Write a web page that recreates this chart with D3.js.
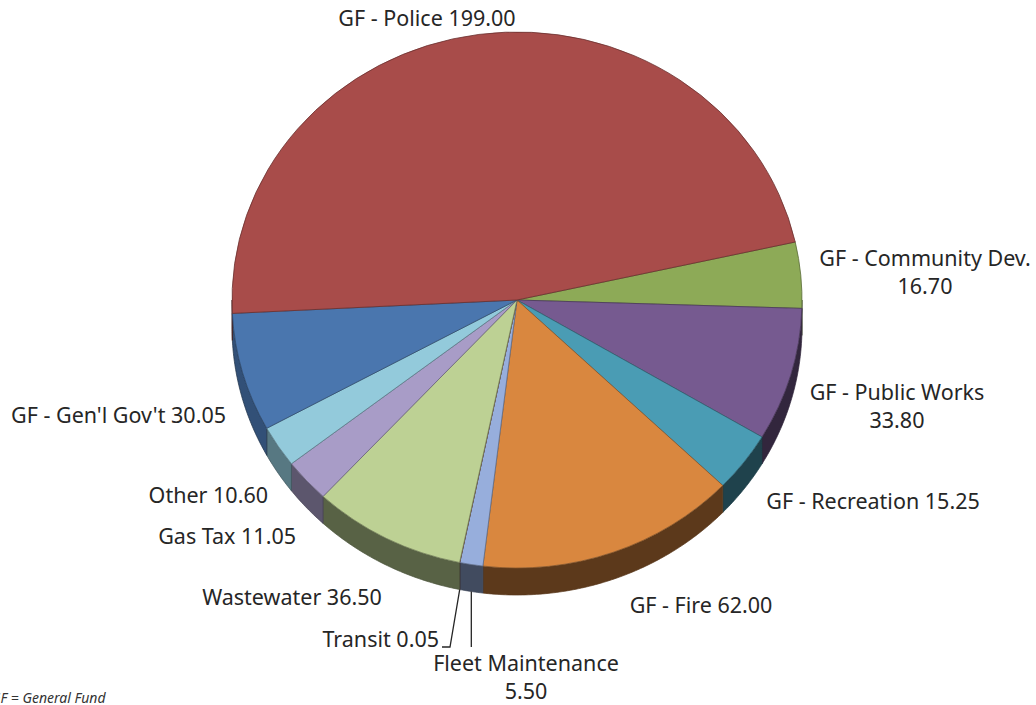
<!DOCTYPE html>
<html>
<head>
<meta charset="utf-8">
<script src="https://cdn.jsdelivr.net/npm/d3@7"></script>
<style>
  body { margin: 0; background: #fff; }
  svg { display: block; }
</style>
</head>
<body>
<div id="chart"></div>
<script>
// slices, clockwise starting just under Police on the right
let names = ["GF - Community Dev.", "GF - Public Works", "GF - Recreation", "GF - Fire",
             "Fleet Maintenance", "Transit", "Wastewater", "Gas Tax", "Other",
             "GF - Gen'l Gov't", "GF - Police"];
let values = [16.70, 33.80, 15.25, 62.00, 5.50, 0.05, 36.50, 11.05, 10.60, 30.05, 199.00];
let colors = ["#8DAA57", "#765A90", "#4A9CB4", "#D9873F", "#97AEDC", "#8E4C4C",
              "#BDD194", "#A89CC7", "#93CADB", "#4A76AE", "#A84C4A"];

let dim = { width: 1036, height: 705 };
let cx = 517, cy = 300, rx = 285, ry = 268, depth = 27;

// where each label sits (text anchor point, baseline)
let labelPos = {
  "GF - Police":        { x: 427, y: 26,  anchor: "middle" },
  "GF - Community Dev.":{ x: 925, y: 266, anchor: "middle", wrap: true },
  "GF - Public Works":  { x: 897, y: 400, anchor: "middle", wrap: true },
  "GF - Recreation":    { x: 873, y: 509, anchor: "middle" },
  "GF - Fire":          { x: 701, y: 613, anchor: "middle" },
  "Fleet Maintenance":  { x: 526, y: 671, anchor: "middle", wrap: true, leadY: 647, vertical: true },
  "Transit":            { x: 439, y: 647, anchor: "end", lead: [450, 647], tail: 8 },
  "Wastewater":         { x: 292, y: 605, anchor: "middle" },
  "Gas Tax":            { x: 296, y: 544, anchor: "end" },
  "Other":              { x: 268, y: 503, anchor: "end" },
  "GF - Gen'l Gov't":   { x: 226, y: 423, anchor: "end" }
};

let data = names.map((n, i) => ({ name: n, value: values[i], color: colors[i] }));

let start = 77.5 * Math.PI / 180;
let pie = d3.pie().value(d => d.value).sort(null)
  .startAngle(start).endAngle(start + 2 * Math.PI);
let arcs = pie(data);

let svg = d3.select('#chart').append('svg')
  .attr('width', dim.width).attr('height', dim.height)
  .style('font-family', '"Noto Sans", "Open Sans", sans-serif');

// flattened circle -> ellipse
let g = svg.append('g')
  .attr('transform', `translate(${cx},${cy}) scale(${rx / ry},1)`);

// side wall shading, lighter on the left
let shade = d3.scaleLinear()
  .domain([Math.PI, 200 * Math.PI / 180, 262 * Math.PI / 180])
  .range([2.4, 2.3, 0.9]).clamp(true);

let frontLo = Math.PI / 2, frontHi = 3 * Math.PI / 2;

function wallPath(a0, a1) {
  let s = Math.max(a0, frontLo), e = Math.min(a1, frontHi);
  if (e <= s) return null;
  let n = Math.max(2, Math.ceil((e - s) / 0.01));
  let top = d3.range(n + 1).map(i => s + (e - s) * i / n);
  let pts = top.map(a => [ry * Math.sin(a), -ry * Math.cos(a)]);
  let bot = top.slice().reverse().map(a => [ry * Math.sin(a), -ry * Math.cos(a) + depth]);
  return d3.line()(pts.concat(bot)) + 'Z';
}

g.selectAll('path.wall')
  .data(arcs.filter(d => wallPath(d.startAngle, d.endAngle)))
  .join('path')
  .attr('class', 'wall')
  .attr('d', d => wallPath(d.startAngle, d.endAngle))
  .attr('fill', d => {
    let mid = (Math.max(d.startAngle, frontLo) + Math.min(d.endAngle, frontHi)) / 2;
    return d3.color(d.data.color).darker(shade(mid));
  })
  .attr('stroke', d => d3.color(d.data.color).darker(2.6))
  .attr('stroke-width', 0.7)
  .attr('vector-effect', 'non-scaling-stroke');

let arc = d3.arc().innerRadius(0).outerRadius(ry);

g.selectAll('path.top')
  .data(arcs)
  .join('path')
  .attr('class', 'top')
  .attr('d', arc)
  .attr('fill', d => d.data.color)
  .attr('stroke', d => d3.color(d.data.color).darker(1.3))
  .attr('stroke-width', 0.8)
  .attr('vector-effect', 'non-scaling-stroke');

// labels
let fmt = d3.format('.2f');
let lab = svg.append('g')
  .attr('font-size', 21.5)
  .attr('fill', '#262626');

arcs.forEach(d => {
  let p = labelPos[d.data.name];
  let t = lab.append('text')
    .attr('x', p.x).attr('y', p.y)
    .attr('text-anchor', p.anchor);
  if (p.wrap) {
    t.append('tspan').attr('x', p.x).text(d.data.name);
    t.append('tspan').attr('x', p.x).attr('dy', 28).text(fmt(d.data.value));
  } else {
    t.text(d.data.name + ' ' + fmt(d.data.value));
  }
  if (p.lead || p.vertical) {
    let mid = (d.startAngle + d.endAngle) / 2;
    let x0 = cx + rx * Math.sin(mid), y0 = cy - ry * Math.cos(mid) + depth;
    let pts = p.vertical ? [[x0, y0], [x0, p.leadY]] : [[x0, y0], p.lead];
    if (p.tail) pts.push([p.lead[0] - p.tail, p.lead[1]]);
    svg.append('path')
      .attr('d', d3.line()(pts))
      .attr('fill', 'none')
      .attr('stroke', '#262626')
      .attr('stroke-width', 1.3);
  }
});

svg.append('text')
  .attr('x', -9).attr('y', 703)
  .attr('font-size', 14)
  .attr('font-style', 'italic')
  .attr('fill', '#333')
  .text('GF = General Fund');
</script>
</body>
</html>
